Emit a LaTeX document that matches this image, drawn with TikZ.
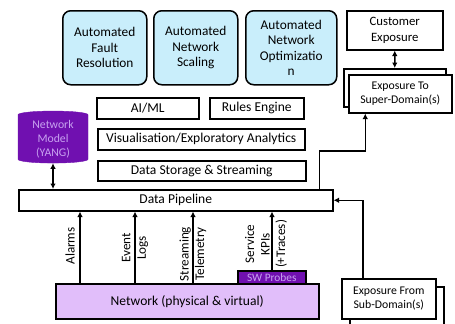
\documentclass[tikz,border=0pt]{standalone}
\usepackage{fontspec}
\setmainfont{Carlito}
\usetikzlibrary{arrows.meta,shapes.geometric}
\definecolor{autoblue}{HTML}{C9EEFB}
\definecolor{netlilac}{HTML}{E1BEFA}
\definecolor{yangpurple}{HTML}{7010B0}
\definecolor{yangtext}{HTML}{C8A2F0}
\tikzstyle{layer} = [draw, line width=1.5bp, anchor=north west, inner sep=0pt,
    align=center, font=\fontsize{13.6}{16}\selectfont]
\tikzstyle{usecase} = [layer, rounded corners=8bp, fill=autoblue,
    font=\fontsize{13.4}{15.5}\selectfont]
\tikzstyle{expo} = [layer, fill=white, font=\fontsize{11.8}{14}\selectfont]
\tikzstyle{feed} = [rotate=90, align=center, inner sep=0pt,
    font=\fontsize{13.2}{15.5}\selectfont]
\tikzstyle{uparr} = [-{Latex[length=5.5bp,width=5.5bp]}, line width=1.5bp]
\tikzstyle{bothway} = [{Latex[length=5.5bp,width=5.5bp]}-{Latex[length=5.5bp,width=5.5bp]}, line width=1.5bp]
\newcommand{\layerbox}[5]{
    \node(#1) at (#2) [layer, minimum width=#3, minimum height=#4] {#5};
}
\newcommand{\usecasebox}[4]{
    \node(#1) at (#2) [usecase, minimum width=#3, minimum height=74bp] {#4};
}

\begin{document}
\begin{tikzpicture}[x=1bp,y=-1bp]
	\useasboundingbox (0,0) rectangle (455,323);

	\usecasebox{fault}{62,10}{84bp}{Automated\\Fault\\Resolution}
	\usecasebox{scaling}{153,10}{84bp}{Automated\\Network\\Scaling}
	\usecasebox{optim}{245,10}{91bp}{Automated\\Network\\Optimizatio\\n}

	\node(cust) at (346,10) [expo, minimum width=96bp, minimum height=39bp,
	    font=\fontsize{12.8}{16}\selectfont] {Customer\\Exposure};
	\node(supback) at (343,68) [expo, minimum width=102bp, minimum height=38bp] {};
	\node(supfront) at (348,74) [expo, minimum width=103bp, minimum height=38bp] {Exposure To\\Super-Domain(s)};

	\layerbox{aiml}{96,97}{102bp}{21bp}{AI/ML}
	\layerbox{rules}{209,97}{94bp}{21bp}{Rules Engine}
	\layerbox{visual}{97,128}{207bp}{21bp}{Visualisation/Exploratory Analytics}
	\layerbox{storage}{97,160}{208bp}{20bp}{Data Storage \& Streaming}
	\layerbox{pipe}{18,189}{314bp}{21bp}{Data Pipeline}

	\node(yang) at (53,139) [cylinder, shape border rotate=90, aspect=0.18, draw=yangpurple,
	    fill=yangpurple, text=yangtext, minimum width=70bp, minimum height=52bp, inner sep=0pt,
	    align=center, font=\fontsize{11.8}{14}\selectfont] {Network\\Model\\(YANG)};

	\node(net) at (55,283) [layer, fill=netlilac, minimum width=263bp, minimum height=35bp] {Network (physical \& virtual)};
	\node(probes) at (237,270) [layer, fill=yangpurple, text=yangtext, minimum width=68bp,
	    minimum height=13bp, font=\fontsize{11.4}{13}\selectfont] {SW Probes};

	\node(subback) at (349,286) [expo, minimum width=94bp, minimum height=40bp] {};
	\node(subfront) at (341,278) [expo, minimum width=94bp, minimum height=40bp] {Exposure From\\Sub-Domain(s)};

	% feeds into the pipeline
	\foreach \x in {80,135,193}
	    \draw[uparr] (\x,0 |- net.north) -- (\x,0 |- pipe.south);
	\draw[uparr] (272,0 |- probes.north) -- (272,0 |- pipe.south);
	\node(alarmlbl) at (70,246) [feed] {Alarms};
	\node(eventlbl) at (135,248) [feed] {Event\\Logs};
	\node(streamlbl) at (193,254) [feed] {Streaming\\Telemetry};
	\node(kpilbl) at (266,244) [feed] {Service\\KPIs\\(+Traces)};

	\draw[bothway] (yang.south) -- (yang.south |- pipe.north);
	\draw[bothway] (cust.south) -- (supback.north);
	\draw[uparr] ([xshift=-14bp]pipe.north east) -- ++(0,-38) -| ([xshift=-35bp]supfront.south);
	\draw[uparr] ([xshift=-26bp]subfront.north) |- (pipe.east);
\end{tikzpicture}
\end{document}
